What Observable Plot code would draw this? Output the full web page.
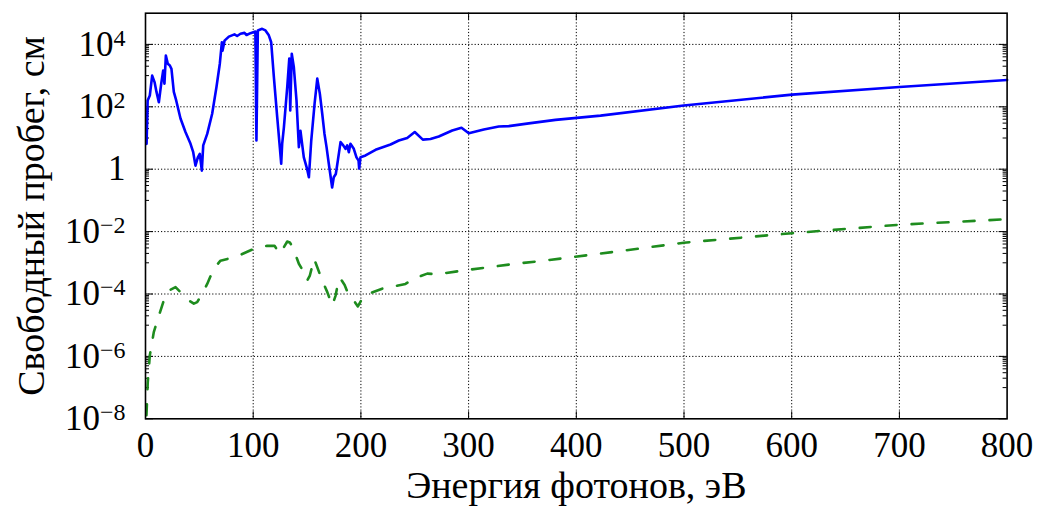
<!DOCTYPE html>
<html><head><meta charset="utf-8">
<script src="https://cdn.jsdelivr.net/npm/d3@7"></script>
<script src="https://cdn.jsdelivr.net/npm/@observablehq/plot@0.6"></script>
<style>body{margin:0;background:#fff}</style>
</head><body><div id="chart"></div>
<script>
// Solid blue curve: photon energy (eV) -> mean free path (cm)
const blueX = [1,2,4,6.2,8.4,10.2,12.4,14.6,16.4,17.6,18.9,20.7,22.6,24.1,26.3,28.5,32.5,37.1,41.8,44.3,46.4,48.6,50.4,52.3,53.6,57.3,61.9,65.9,69,70.9,71.5,73.4,77.4,82.6,85.1,88.2,91.9,93.8,97.5,102,103,104.3,108.3,111.4,114.5,116.7,119.2,122.3,124.7,126,126.9,128.5,131.6,133.5,134.4,135.8,137.7,140.2,142.4,143.9,147,150.1,151.7,153.9,157,159.5,161.9,164.1,166.2,168.1,170.2,173.3,174.8,176.7,178.6,181.1,183.6,185.7,187.3,188.8,190.3,193.4,195.9,197.8,198.4,199.6,204.3,213.6,227.5,235.2,243,250,257.5,264.6,272.3,284.8,293.4,300.2,314.1,328,337.3,355.9,380.7,422.5,499.8,600.4,700,800];
const blueY = [6.5,160,230,1000,620,300,140,550,1450,550,4400,2400,2100,1650,300,160,42,15.5,6.5,3.5,1.3,2.4,3.1,0.9,5.8,13.5,60,430,2400,11700,6300,13200,17800,21000,18600,21900,23400,20000,22900,25700,8.3,28000,31600,28000,19500,11700,890,47,5.1,1.5,6.5,22,430,3500,76,5000,1900,160,5.1,17,2.4,1.0,0.55,8.3,126,800,260,60,13.5,5.1,1.5,0.26,0.55,0.7,1.9,7.4,5.8,4.5,5.8,3.5,6.5,4.5,2.4,1.9,1.05,2.4,2.75,4.2,6.2,8.3,10,15.5,8.9,9.3,11.2,17.4,21.4,14.1,18.6,23.4,24,29.5,38,52,110,245,430,725];

// Dashed green curve
const greenX = [0.9,2.1,4,7.7,12.4,17,21.6,27.9,32.5,38,44.9,48,52.6,57.3,63.4,69.6,82,88.2,100.6,107,113,119.8,124.7,127.5,131.6,134,137,142.4,147,150.1,152.6,156.5,159.5,164.1,168.8,173.4,176.5,179.6,181.1,184.9,188.8,193.4,197.2,202.7,219.7,241.4,249.1,261.6,270.8,294,318.8,343.5,369.8,433.3,499.8,600.4,700,800];
const greenY = [1.3e-8,1.5e-7,1.07e-6,6e-6,2.0e-5,6.2e-5,1.29e-4,1.66e-4,1.15e-4,7e-5,4.9e-5,5.5e-5,1.02e-4,2.1e-4,6.5e-4,1.17e-3,1.5e-3,1.8e-3,2.8e-3,3.2e-3,3.5e-3,3.5e-3,1.95e-3,2.8e-3,4.8e-3,4.5e-3,3.0e-3,9.3e-4,5.0e-4,2.7e-4,3.9e-4,1.35e-3,7.2e-4,2.7e-4,1.15e-4,4.3e-5,8.9e-5,3.2e-4,3.1e-4,1.95e-4,8.9e-5,6.2e-5,4.0e-5,8.9e-5,1.48e-4,2.1e-4,3.1e-4,4.5e-4,4.3e-4,5.6e-4,7.2e-4,9.3e-4,1.17e-3,2.2e-3,4.4e-3,8.9e-3,1.66e-2,2.5e-2];

const xTicks = [0,100,200,300,400,500,600,700,800];
const xGrid = [100,200,300,400,500,600,700];
const yTicks = [1e-8,1e-6,1e-4,1e-2,1,1e2,1e4];
const yTickLabels = ["10^−8","10^−6","10^−4","10^−2","1","10^2","10^4"];
const yGrid = [1e-6,1e-4,1e-2,1,1e2,1e4];
const yMinor = [-7,-5,-3,-1,1,3].flatMap(e => [1,2,3,4,5,6,7,8,9].map(k => k * 10 ** e));
const xLabel = "Энергия фотонов, эВ";
const yLabel = "Свободный пробег, см";

const blue = blueX.map((x, i) => ({x, y: blueY[i]}));
const green = greenX.map((x, i) => ({x, y: greenY[i]}));

const W = 1038, H = 511, mL = 145, mR = 31.4, mT = 12.7, mB = 92.7;
const xPerPx = 800 / (W - mL - mR);
const decPerPx = 13 / (H - mT - mB);
const font = "'Liberation Serif', 'DejaVu Serif', serif";

const chart = Plot.plot({
  width: W, height: H,
  marginLeft: mL, marginRight: mR, marginTop: mT, marginBottom: mB,
  style: {fontFamily: font, background: "#fff", color: "#000"},
  x: {domain: [0, 800]},
  y: {type: "log", domain: [1e-8, 1e5]},
  marks: [
    Plot.gridX(xGrid, {stroke: "#000", strokeOpacity: 1, strokeWidth: 1, strokeDasharray: "1.2,2"}),
    Plot.gridY(yGrid, {stroke: "#000", strokeOpacity: 1, strokeWidth: 1, strokeDasharray: "1.2,2"}),
    // inward ticks
    Plot.ruleY(yTicks, {x1: 0, x2: 8 * xPerPx, stroke: "#000", strokeWidth: 1}),
    Plot.ruleY(yTicks, {x1: 800 - 8 * xPerPx, x2: 800, stroke: "#000", strokeWidth: 1}),
    Plot.ruleY(yMinor, {x1: 0, x2: 4 * xPerPx, stroke: "#000", strokeWidth: 1}),
    Plot.ruleY(yMinor, {x1: 800 - 4 * xPerPx, x2: 800, stroke: "#000", strokeWidth: 1}),
    Plot.ruleX(xGrid, {y1: 1e-8, y2: 1e-8 * 10 ** (7 * decPerPx), stroke: "#000", strokeWidth: 1}),
    Plot.ruleX(xGrid, {y1: 1e5 / 10 ** (7 * decPerPx), y2: 1e5, stroke: "#000", strokeWidth: 1}),
    Plot.line(green, {x: "x", y: "y", stroke: "#1e8c1e", strokeWidth: 2.6, strokeDasharray: "11,15"}),
    Plot.line(blue, {x: "x", y: "y", stroke: "#0000ff", strokeWidth: 2.6, strokeLinejoin: "round"}),
    Plot.frame({stroke: "#000", strokeWidth: 1.6}),
    Plot.axisX(xTicks, {tickSize: 0, tickPadding: 13, fontSize: 35, label: null}),
    Plot.axisY(yTicks, {tickSize: 0, tickPadding: 20, fontSize: 35, label: null,
      tickFormat: d => yTickLabels[yTicks.indexOf(d)]}),
    Plot.text([xLabel], {frameAnchor: "bottom", dy: 79, fontSize: 38, fill: "#000"}),
    Plot.text([yLabel], {frameAnchor: "left", textAnchor: "middle", dx: -114, rotate: -90, fontSize: 38, fill: "#000"})
  ]
});

// render exponents as raised, smaller text
d3.select(chart).selectAll("text").each(function() {
  const t = this.textContent;
  if (t.includes("^")) {
    const [base, exp] = t.split("^");
    const sel = d3.select(this);
    sel.text(null);
    sel.append("tspan").text(base);
    sel.append("tspan").attr("dy", "-0.42em").attr("font-size", "24px").text(exp);
  }
});

document.getElementById("chart").appendChild(chart);
</script>
</body></html>
